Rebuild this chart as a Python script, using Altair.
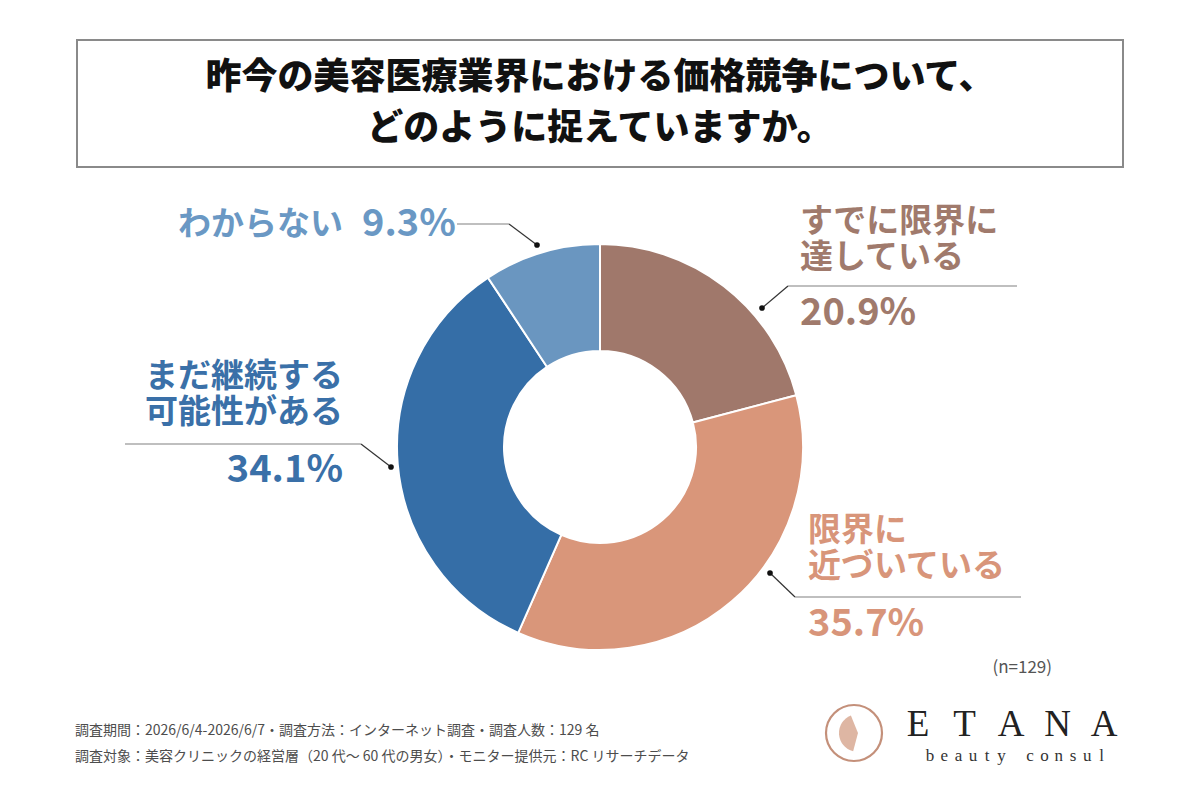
import altair as alt
import pandas as pd

# ---------------- data ----------------
categories = ["すでに限界に達している", "限界に近づいている", "まだ継続する可能性がある", "わからない"]
values = [20.9, 35.7, 34.1, 9.3]
label_lines = [["すでに限界に", "達している"], ["限界に", "近づいている"], ["まだ継続する", "可能性がある"], ["わからない"]]
slice_colors = ["#a0786b", "#d9967a", "#356ea7", "#6a96c0"]
label_colors = ["#a07a6c", "#d8957a", "#3a70a8", "#6a98c4"]

title_lines = ["昨今の美容医療業界における価格競争について、", "どのように捉えていますか。"]
footer_lines = [
    "調査期間：2026/6/4-2026/6/7・調査方法：インターネット調査・調査人数：129 名",
    "調査対象：美容クリニックの経営層（20 代～ 60 代の男女）・モニター提供元：RC リサーチデータ",
]
n_note = "(n=129)"
logo_word = "ETANA"
logo_sub = "beauty consul"

FONT = "Noto Sans CJK JP"
W, H = 1200, 800
CX, CY, R_OUT, R_IN = 600, 447, 203, 96
LINE_H = 36

# ---------------- layout (annotation positions) ----------------
# y = vertical centre of the first line of the label block
layout = [
    dict(x=800, align="left", y=222, py=314, pts=[(762, 308), (788, 286), (1017, 286)]),
    dict(x=808, align="left", y=531, py=625, pts=[(770, 573), (795, 597), (1021, 597)]),
    dict(x=343, align="right", y=377, py=471, pts=[(391, 467), (361, 444), (125, 444)]),
    dict(x=178, align="left", y=225, py=225, px=362, pts=[(537, 245), (509, 224), (457, 224)]),
]

# ---------------- donut ----------------
pie_df = pd.DataFrame({"category": categories, "value": values, "order": list(range(len(values)))})
donut = alt.Chart(pie_df).mark_arc(
    outerRadius=R_OUT, innerRadius=R_IN, stroke="white", strokeWidth=2
).encode(
    theta=alt.Theta("value:Q", stack=True),
    color=alt.Color("category:N", scale=alt.Scale(domain=categories, range=slice_colors), legend=None),
    order=alt.Order("order:Q"),
    x=alt.value(CX),
    y=alt.value(CY),
)

# ---------------- labels ----------------
rows_left, rows_right, pct_rows = [], [], []
for i, (lines, lay) in enumerate(zip(label_lines, layout)):
    target = rows_left if lay["align"] == "left" else rows_right
    target.append(dict(x=lay["x"], y=lay["y"], text="\n".join(lines), color=label_colors[i], size=33))
    px = lay.get("px", lay["x"])
    pct_rows.append(dict(x=px, y=lay["py"], text=f"{values[i]}%", color=label_colors[i], size=38,
                         align=lay["align"]))


def text_layer(rows, align, font=FONT, weight="bold", baseline="middle", line_break=False):
    kw = dict(align=align, baseline=baseline, font=font, fontWeight=weight)
    if line_break:
        kw.update(lineBreak="\n", lineHeight=LINE_H)
    return alt.Chart(pd.DataFrame(rows)).mark_text(**kw).encode(
        x=alt.X("x:Q", scale=None),
        y=alt.Y("y:Q", scale=None),
        text="text:N",
        color=alt.Color("color:N", scale=None),
        size=alt.Size("size:Q", scale=None),
    )


labels_left = text_layer(rows_left, "left", line_break=True)
labels_right = text_layer(rows_right, "right", line_break=True)
pct_left = text_layer([r for r in pct_rows if r["align"] == "left"], "left")
pct_right = text_layer([r for r in pct_rows if r["align"] == "right"], "right")

# ---------------- leader lines ----------------
seg_rows, dot_rows = [], []
for lay in layout:
    p = lay["pts"]
    seg_rows.append(dict(x=p[0][0], y=p[0][1], x2=p[1][0], y2=p[1][1], color="#333333"))
    seg_rows.append(dict(x=p[1][0], y=p[1][1], x2=p[2][0], y2=p[2][1], color="#808080"))
    dot_rows.append(dict(x=p[0][0], y=p[0][1]))

leaders = alt.Chart(pd.DataFrame(seg_rows)).mark_rule(strokeWidth=1.2).encode(
    x=alt.X("x:Q", scale=None), y=alt.Y("y:Q", scale=None),
    x2="x2:Q", y2="y2:Q",
    color=alt.Color("color:N", scale=None),
)
dots = alt.Chart(pd.DataFrame(dot_rows)).mark_circle(size=32, color="#111111", opacity=1).encode(
    x=alt.X("x:Q", scale=None), y=alt.Y("y:Q", scale=None)
)

# ---------------- title box ----------------
box = alt.Chart(pd.DataFrame([dict(x=77, y=40, x2=1123, y2=167)])).mark_rect(
    fill="white", stroke="#8a8a8a", strokeWidth=2
).encode(x=alt.X("x:Q", scale=None), y=alt.Y("y:Q", scale=None), x2="x2:Q", y2="y2:Q")

title_rows = [dict(x=600, y=yy, text=t, color="#111111", size=36) for t, yy in zip(title_lines, [78, 129])]
title = text_layer(title_rows, "center", weight=900)

# ---------------- footer / notes ----------------
footer_rows = [dict(x=75, y=yy, text=t, color="#4d4d4d", size=14) for t, yy in zip(footer_lines, [731, 757])]
footer = text_layer(footer_rows, "left", weight="normal")

note = text_layer([dict(x=1052, y=668, text=n_note, color="#555555", size=17)], "right", weight="normal")

# ---------------- logo ----------------
ring = alt.Chart(pd.DataFrame([dict(x=854, y=733)])).mark_point(
    shape="circle", size=3136, filled=False, stroke="#c4907a", strokeWidth=2.2, opacity=1
).encode(x=alt.X("x:Q", scale=None), y=alt.Y("y:Q", scale=None))

face = alt.Chart(pd.DataFrame([dict(x=858, y=733)])).mark_arc(
    innerRadius=0, outerRadius=19, theta=3.4, theta2=5.9, color="#d6a48c", opacity=0.8
).encode(x=alt.X("x:Q", scale=None), y=alt.Y("y:Q", scale=None))

word_rows = [dict(x=918 + i * 46.5, y=725, text=ch, color="#222222", size=37) for i, ch in enumerate(logo_word)]
word = text_layer(word_rows, "center", font="Liberation Serif", weight="normal")
sub_rows = [dict(x=930 + i * 14.3, y=756, text=ch, color="#333333", size=17)
            for i, ch in enumerate(logo_sub) if ch != " "]
sub = text_layer(sub_rows, "center", font="Liberation Serif", weight="normal")

chart = alt.layer(
    box, title, donut, leaders, dots, labels_left, labels_right, pct_left, pct_right,
    footer, note, ring, face, word, sub
).properties(
    width=W, height=H, autosize=alt.AutoSizeParams(type="none"), padding=0, background="white"
).configure_view(stroke=None)

chart.save("out.html", embed_options={"renderer": "svg", "actions": False})
